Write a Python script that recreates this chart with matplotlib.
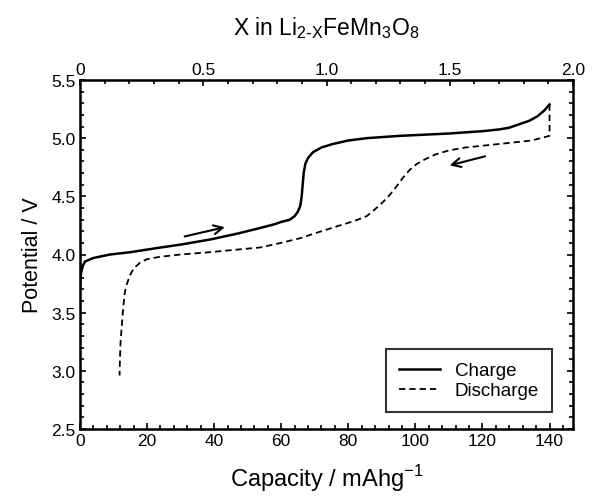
import matplotlib
matplotlib.use("Agg")
import matplotlib.pyplot as plt
from matplotlib.ticker import MultipleLocator

plt.rcParams['font.family'] = ['Liberation Sans', 'DejaVu Sans']

# charge curve, capacity (mAh/g) vs potential (V)
charge_cap = [0.0, 0.1, 0.3, 0.8, 1.5, 4.0, 9.0, 15.0, 24.0, 30.0, 39.0, 47.0, 54.0,
              58.0, 60.0, 62.6, 64.0, 65.0, 65.7, 66.1, 66.4, 66.7, 67.2, 68.0, 69.5,
              72.0, 75.4, 80.0, 85.5, 95.4, 110.0, 120.0, 125.0, 128.0, 131.0,
              134.0, 136.5, 138.5, 140.0]
charge_v = [3.72, 3.78, 3.84, 3.90, 3.94, 3.97, 4.00, 4.02, 4.06, 4.085, 4.13, 4.18, 4.23,
            4.26, 4.28, 4.30, 4.33, 4.37, 4.42, 4.50, 4.60, 4.70, 4.78, 4.83, 4.88,
            4.92, 4.95, 4.98, 5.00, 5.02, 5.04, 5.06, 5.075, 5.09, 5.12,
            5.15, 5.19, 5.24, 5.29]

# discharge curve
discharge_cap = [140.0, 140.0, 134.7, 125.0, 115.0, 110.0, 106.0, 103.0, 100.5, 98.4,
                 96.3, 94.5, 92.3, 90.3, 88.0, 85.5, 82.0, 77.5, 72.0, 65.6, 60.0,
                 53.6, 46.0, 38.7, 30.0, 23.8, 20.0, 17.9, 16.0, 14.9, 13.9, 13.4,
                 12.9, 12.5, 12.1, 11.9, 11.8]
discharge_v = [5.29, 5.02, 4.98, 4.95, 4.92, 4.895, 4.86, 4.82, 4.78, 4.73,
               4.66, 4.59, 4.51, 4.45, 4.39, 4.33, 4.29, 4.25, 4.20, 4.14, 4.10,
               4.06, 4.04, 4.02, 4.00, 3.98, 3.96, 3.93, 3.88, 3.82, 3.74, 3.68,
               3.55, 3.40, 3.25, 3.10, 2.96]

# direction arrows (tail -> head)
charge_arrow = [(30.4, 4.15), (44.0, 4.24)]
discharge_arrow = [(121.6, 4.85), (109.4, 4.76)]

cap_max = 147.0
x_max = 2.0

fig = plt.figure(figsize=(5.95, 5.02), dpi=100)
ax = fig.add_axes([80 / 595, 1 - 430 / 502, (573 - 80) / 595, (430 - 81) / 502])

ax.plot(charge_cap, charge_v, color='black', lw=1.8, label='Charge')
ax.plot(discharge_cap, discharge_v, color='black', lw=1.3, ls=(0, (3.5, 2.2)), label='Discharge')

for (x0, y0), (x1, y1) in [charge_arrow, discharge_arrow]:
    ax.annotate('', xy=(x1, y1), xytext=(x0, y0),
                arrowprops=dict(arrowstyle='->', color='black', lw=1.5,
                                mutation_scale=16))

ax.set_xlim(0, cap_max)
ax.set_ylim(2.5, 5.5)
ax.xaxis.set_major_locator(MultipleLocator(20))
ax.xaxis.set_minor_locator(MultipleLocator(4))
ax.yaxis.set_major_locator(MultipleLocator(0.5))
ax.yaxis.set_minor_locator(MultipleLocator(0.1))
ax.yaxis.set_major_formatter(plt.FormatStrFormatter('%.1f'))
ax.tick_params(which='both', direction='in', top=False, right=True, labelsize=12.5,
               width=1.2, pad=3)
ax.tick_params(which='major', length=4)
ax.tick_params(which='minor', length=3)
for s in ax.spines.values():
    s.set_linewidth(1.8)

ax.set_xlabel('Capacity / mAhg$^{\\mathregular{-1}}$', fontsize=17, labelpad=10)
ax.set_ylabel('Potential / V', fontsize=15.5, labelpad=6)

top = ax.twiny()
top.set_xlim(0, x_max)
top.xaxis.set_major_locator(MultipleLocator(0.5))
top.xaxis.set_minor_locator(MultipleLocator(0.1))
top.xaxis.set_major_formatter(plt.FuncFormatter(lambda v, p: '0' if v == 0 else f'{v:.1f}'))
top.tick_params(which='both', direction='in', labelsize=12.5, width=1.2, pad=2)
top.tick_params(which='major', length=4)
top.tick_params(which='minor', length=3)
top.set_xlabel('X in Li$_{\\mathregular{2\\text{-}X}}$FeMn$_{\\mathregular{3}}$O$_{\\mathregular{8}}$',
               fontsize=16.5, labelpad=20)

leg = ax.legend(loc='lower right', bbox_to_anchor=(0.958, 0.048), fontsize=13.5,
                frameon=True, fancybox=False, edgecolor='black', handlelength=2.2,
                borderpad=0.7, labelspacing=0.15, handletextpad=0.8,
                borderaxespad=0)
leg.get_frame().set_linewidth(1.5)

fig.savefig('out.png', dpi=100)
